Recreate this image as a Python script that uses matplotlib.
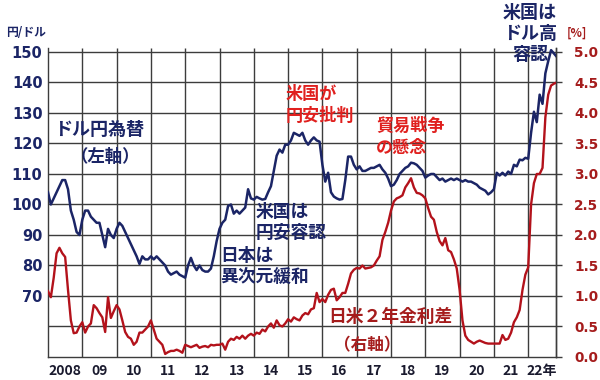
import numpy as np
import matplotlib
matplotlib.use("Agg")
import matplotlib.pyplot as plt

NAVY = "#1B2566"
RED_LINE = "#B3121B"
RED_TEXT = "#E0201E"
RED_DARK = "#A51C1C"
GRID = "#3C3C3C"

JP = ["Noto Sans CJK JP", "DejaVu Sans"]

# monthly values, Jan 2008 .. Nov 2022
start_year = 2008
usdjpy = [
    104, 100, 102, 104, 106, 108, 108, 105, 98, 95, 91, 90,                      # 2008
    95, 98, 98, 96, 95, 94, 94, 90, 86, 92, 90, 89,                              # 2009
    92, 94, 93, 91, 89, 87, 85, 83, 80.5, 83, 82, 82,                            # 2010
    83, 82, 83, 82, 81, 80, 78, 77, 77.5, 78, 77, 76.5,                          # 2011
    76, 80, 82.5, 80, 78.5, 80, 78.5, 78, 78, 79, 83, 88,                        # 2012
    92, 94, 95, 99.5, 100, 97, 98, 97, 98, 99, 105, 102,                         # 2013
    101.6, 102.5, 102, 101.6, 101.8, 104, 106, 111, 116, 118, 117, 119.6,        # 2014
    119.6, 121, 123.5, 123, 122.5, 123.5, 121, 119.6, 121, 122, 121, 120.6,      # 2015
    113, 107.5, 110.4, 104, 102.6, 102, 101.6, 101.8, 108, 115.7, 115.7, 113,    # 2016
    111.5, 112.5, 111, 111, 111.5, 112, 112, 112.5, 113, 111.5, 110.4, 108.5,    # 2017
    106, 106.5, 108, 110, 111, 112, 112.5, 113.7, 113.5, 113, 112, 111,          # 2018
    108.8, 109.5, 110, 110, 109, 108, 108.5, 107.5, 108, 108.5, 108, 108.5,      # 2019
    108, 107.5, 108, 107.5, 107.5, 107, 106.5, 105.5, 105, 104.5, 103.3, 104,    # 2020
    105, 110.4, 109.5, 110.4, 109.5, 110.8, 110, 113, 112.5, 114.7, 114.5, 115.3,  # 2021
    115, 123.5, 130.4, 127, 136, 133, 143, 147, 150.6, 149.5, 148.4,             # 2022
]
spread = [
    1.08, 0.98, 1.3, 1.7, 1.79, 1.7, 1.64, 1.1, 0.6, 0.39, 0.4, 0.5,            # 2008
    0.57, 0.4, 0.5, 0.55, 0.85, 0.8, 0.72, 0.65, 0.41, 0.98, 0.64, 0.75,         # 2009
    0.85, 0.78, 0.6, 0.41, 0.33, 0.3, 0.2, 0.25, 0.4, 0.4, 0.45, 0.5,            # 2010
    0.6, 0.45, 0.3, 0.25, 0.2, 0.05, 0.08, 0.1, 0.1, 0.12, 0.1, 0.07,            # 2011
    0.2, 0.18, 0.16, 0.18, 0.2, 0.15, 0.17, 0.18, 0.16, 0.2, 0.19, 0.2,          # 2012
    0.2, 0.22, 0.12, 0.25, 0.3, 0.28, 0.33, 0.3, 0.35, 0.3, 0.35, 0.38,          # 2013
    0.35, 0.4, 0.38, 0.45, 0.42, 0.5, 0.55, 0.48, 0.6, 0.52, 0.5, 0.55,          # 2014
    0.62, 0.58, 0.65, 0.62, 0.6, 0.68, 0.72, 0.7, 0.78, 0.8, 1.05, 0.9,          # 2015
    0.95, 0.9, 1.02, 1.1, 1.12, 0.93, 0.98, 1.05, 1.05, 1.2, 1.37, 1.43,         # 2016
    1.46, 1.45, 1.5, 1.45, 1.46, 1.47, 1.5, 1.58, 1.65, 1.92, 2.05, 2.2,         # 2017
    2.4, 2.55, 2.6, 2.62, 2.65, 2.78, 2.85, 2.93, 2.78, 2.69, 2.68, 2.65,        # 2018
    2.6, 2.44, 2.3, 2.25, 2.05, 1.9, 1.83, 1.95, 1.75, 1.72, 1.6, 1.45,          # 2019
    1.1, 0.6, 0.35, 0.28, 0.25, 0.22, 0.25, 0.27, 0.25, 0.23, 0.22, 0.22,        # 2020
    0.22, 0.22, 0.22, 0.36, 0.28, 0.3, 0.4, 0.57, 0.65, 0.77, 1.1, 1.35,         # 2021
    1.47, 2.5, 2.85, 3.0, 3.0, 3.1, 3.93, 4.3, 4.45, 4.48, 4.5,                  # 2022
]
year_labels = ["2008", "09", "10", "11", "12", "13", "14", "15",
               "16", "17", "18", "19", "20", "21", "22年"]
left_ticks = [60, 70, 80, 90, 100, 110, 120, 130, 140, 150]
right_ticks = [0.0, 0.5, 1.0, 1.5, 2.0, 2.5, 3.0, 3.5, 4.0, 4.5, 5.0]

x_end = 2022.81
y_top = 151.3
t = start_year + np.arange(len(usdjpy)) / 12
year_lines = np.arange(2009, 2023)


# right axis (%) <-> left axis (yen): 0% at 50, 5% at 150
def pct_to_yen(p):
    return 50 + np.asarray(p) * 20


def yen_to_pct(y):
    return (np.asarray(y) - 50) / 20


fig = plt.figure(figsize=(6, 3.8), dpi=100)
ax = fig.add_axes([48 / 600, 23 / 380, 508 / 600, 309 / 380])
ax.set_xlim(start_year, x_end)
ax.set_ylim(50, y_top)

# grid
ax.vlines(year_lines, 50, y_top, colors=GRID, linewidth=1.0)
ax.hlines(left_ticks, start_year, x_end, colors=GRID, linewidth=1.0)

# centred year labels
mids = list(np.arange(2008, 2022) + 0.5) + [(2022 + x_end) / 2]
ax.set_xticks(mids)
ax.set_xticklabels(year_labels)
ax.tick_params(axis="x", length=0, pad=5, labelsize=10, labelcolor="#1a1a2e")
for lab in ax.get_xticklabels():
    lab.set_fontweight("bold")
    lab.set_family(JP)

ax.set_yticks(left_ticks)
ax.set_yticklabels([str(v) if v >= 70 else "" for v in left_ticks])
ax.tick_params(axis="y", length=0, labelsize=10.5, labelcolor=NAVY, pad=4)
for lab in ax.get_yticklabels():
    lab.set_fontweight("bold")

sec = ax.secondary_yaxis("right", functions=(yen_to_pct, pct_to_yen))
sec.set_yticks(right_ticks)
sec.set_yticklabels([f"{v:.1f}" for v in right_ticks])
sec.tick_params(axis="y", length=4, color=GRID, width=1.0, pad=9,
                labelsize=9.8, labelcolor=RED_DARK)
for lab in sec.get_yticklabels():
    lab.set_fontweight("bold")
sec.spines["right"].set_color(GRID)
sec.spines["right"].set_linewidth(1.0)

ax.spines["top"].set_visible(False)
for s in ("left", "right", "bottom"):
    ax.spines[s].set_color(GRID)
    ax.spines[s].set_linewidth(1.0)

ax.plot(t, pct_to_yen(spread), color=RED_LINE, linewidth=1.7, zorder=3)
ax.plot(t, usdjpy, color=NAVY, linewidth=1.8, zorder=4)

# labels
tk = dict(family=JP, fontweight="bold")
fig.text(6 / 600, 1 - 32 / 380, "円/ドル", color=NAVY, fontsize=8.5, va="center", **tk)
fig.text(567 / 600, 1 - 33 / 380, "[%]", color=RED_DARK, fontsize=8.5, va="center", **tk)


def note(x, y, s, color, size=13, ha="left", ls=1.2):
    fig.text(x / 600, 1 - y / 380, s, color=color, fontsize=size, va="top",
             ha=ha, linespacing=ls, **tk)


note(54, 120, "ドル円為替", NAVY, 13)
note(70, 148, "（左軸）", NAVY, 12.5)
note(286, 85, "米国が\n円安批判", RED_TEXT, 12.3, ls=1.25)
note(376, 117, "貿易戦争\nの懸念", RED_TEXT, 12.3, ls=1.25)
note(530, 3, "米国は\nドル高\n容認", NAVY, 13, ha="center", ls=1.15)
note(256, 203, "米国は\n円安容認", NAVY, 12.8)
note(220, 247, "日本は\n異次元緩和", NAVY, 12.8)
note(328, 308, "日米２年金利差", RED_DARK, 12.8)
note(334, 336, "（右軸）", RED_DARK, 12)

fig.savefig("out.png", dpi=100, facecolor="white")
